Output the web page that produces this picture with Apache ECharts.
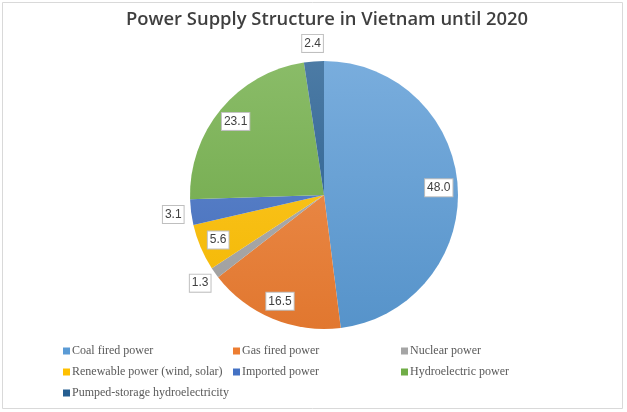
<!DOCTYPE html>
<html>
<head>
<meta charset="utf-8">
<script src="https://cdn.jsdelivr.net/npm/echarts@6/dist/echarts.min.js"></script>
<style>
  html, body { margin: 0; padding: 0; background: #ffffff; }
  #chart { width: 627px; height: 412px; }
</style>
</head>
<body>
<div id="chart"></div>
<script>
// Power supply mix (%), clockwise from 12 o'clock
const categories = [
  'Coal fired power',
  'Gas fired power',
  'Nuclear power',
  'Renewable power (wind, solar)',
  'Imported power',
  'Hydroelectric power',
  'Pumped-storage hydroelectricity'
];
const shares = [48.0, 16.5, 1.3, 5.6, 3.1, 23.1, 2.4];
const baseColors = ['#5b9bd5', '#ed7d31', '#a5a5a5', '#ffc000', '#4472c4', '#70ad47', '#255e91'];

// Legend columns (row-major order: column 1, 2, 3)
const legendColumns = [
  ['Coal fired power', 'Renewable power (wind, solar)', 'Pumped-storage hydroelectricity'],
  ['Gas fired power', 'Imported power'],
  ['Nuclear power', 'Hydroelectric power']
];

// Slices below this share get their label just outside the rim
const smallShare = 4;

const cx = 324, cy = 195, R = 134;

function shade(hex, amt) {
  const n = parseInt(hex.slice(1), 16);
  let r = (n >> 16) & 255, g = (n >> 8) & 255, b = n & 255;
  const f = c => Math.round(amt >= 0 ? c + (255 - c) * amt : c * (1 + amt));
  return 'rgb(' + f(r) + ',' + f(g) + ',' + f(b) + ')';
}

function fillFor(hex) {
  return {
    type: 'linear', x: 0, y: cy - R, x2: 0, y2: cy + R, global: true,
    colorStops: [
      { offset: 0, color: shade(hex, 0.18) },
      { offset: 1, color: shade(hex, -0.05) }
    ]
  };
}

const labelBox = {
  show: true,
  position: 'inside',
  formatter: p => Number(p.value).toFixed(1),
  fontFamily: 'Liberation Sans',
  fontSize: 12,
  color: '#404040',
  backgroundColor: '#ffffff',
  borderColor: '#bfbfbf',
  borderWidth: 1,
  padding: [2, 2, 1, 2],
  lineHeight: 14
};

const sliceData = categories.map((name, i) => ({
  name, value: shares[i], itemStyle: { color: fillFor(baseColors[i]) }
}));

function labelRing(pickSmall) {
  return categories.map((name, i) => {
    const isSmall = shares[i] < smallShare;
    return {
      name, value: shares[i],
      label: { show: isSmall === pickSmall }
    };
  });
}

const labelSeriesBase = {
  type: 'pie',
  center: [cx, cy],
  startAngle: 90,
  clockwise: true,
  silent: true,
  animation: false,
  itemStyle: { color: 'rgba(0,0,0,0)', borderWidth: 0 },
  labelLine: { show: false },
  emphasis: { disabled: true }
};

const legendX = [58, 228, 396];

const option = {
  animation: false,
  backgroundColor: '#ffffff',
  title: {
    text: 'Power Supply Structure in Vietnam until 2020',
    left: 121,
    top: 6,
    textStyle: {
      fontFamily: 'Open Sans',
      fontWeight: 600,
      fontSize: 18.4,
      color: '#3f3f3f'
    }
  },
  graphic: [{
    type: 'rect',
    shape: { x: 2.5, y: 2.5, width: 620, height: 406 },
    style: { fill: 'none', stroke: '#d9d9d9', lineWidth: 1 },
    silent: true
  }],
  legend: legendColumns.map((col, k) => ({
    orient: 'vertical',
    left: legendX[k],
    top: 340,
    itemGap: 9,
    itemWidth: 7,
    itemHeight: 7,
    icon: 'rect',
    selectedMode: false,
    textStyle: {
      fontFamily: 'Liberation Serif', fontSize: 12, color: '#595959',
      padding: [0, 0, 0, -3]
    },
    data: col.map(name => ({
      name,
      itemStyle: { color: baseColors[categories.indexOf(name)] }
    }))
  })),
  series: [
    {
      name: 'Power supply',
      type: 'pie',
      center: [cx, cy],
      radius: [0, R],
      startAngle: 90,
      clockwise: true,
      animation: false,
      label: { show: false },
      labelLine: { show: false },
      itemStyle: { borderWidth: 0 },
      emphasis: { disabled: true },
      data: sliceData
    },
    Object.assign({}, labelSeriesBase, {
      name: 'inner labels',
      radius: [90, R],
      label: labelBox,
      data: labelRing(false)
    }),
    Object.assign({}, labelSeriesBase, {
      name: 'outer labels',
      radius: [R, 164],
      label: labelBox,
      data: labelRing(true)
    })
  ]
};

const chart = echarts.init(document.getElementById('chart'), null, { renderer: 'canvas' });
chart.setOption(option);
</script>
</body>
</html>
